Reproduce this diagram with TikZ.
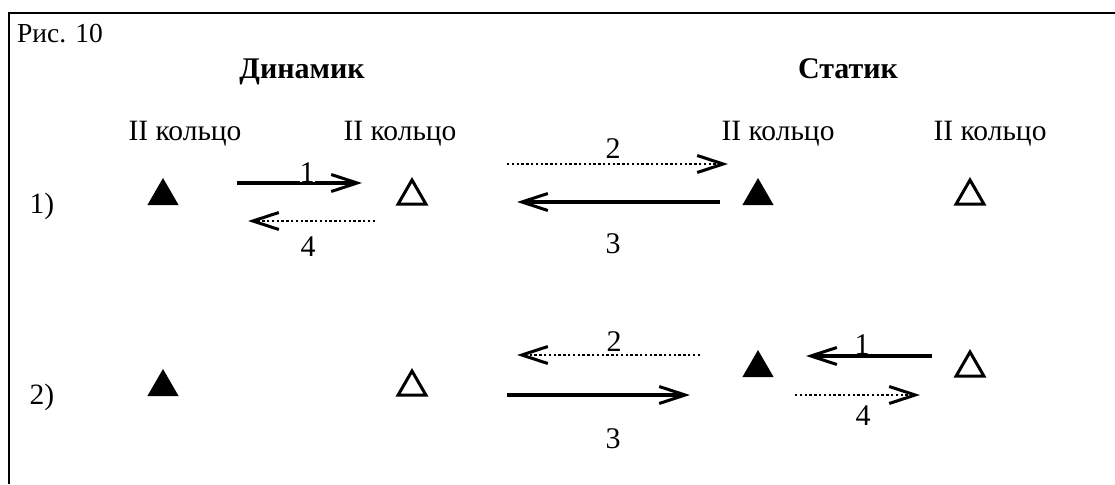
\documentclass[tikz,border=0pt]{standalone}
\usepackage{fontspec}
\setmainfont{Liberation Serif}
\usetikzlibrary{arrows.meta,shapes.geometric}
\tikzset{
  txt/.style={inner sep=0pt, anchor=base, font=\fontsize{29.5}{32}\selectfont},
  head/.style={inner sep=0pt, anchor=base, font=\fontsize{30}{34}\selectfont\bfseries},
  num/.style={inner sep=0pt, anchor=base, fill=white, font=\fontsize{30}{34}\selectfont},
  full/.style={regular polygon, regular polygon sides=3, minimum size=36pt, inner sep=0pt, fill=black},
  hollow/.style={regular polygon, regular polygon sides=3, minimum size=32pt, inner sep=0pt, draw=black, line width=3pt, line join=miter},
  solidarr/.style={line width=3.2pt, -{Straight Barb[length=26pt,width=17pt,line width=3pt]}},
  dotarr/.style={line width=2.8pt, dash pattern=on 2.4pt off 2.4pt, -{Straight Barb[length=26pt,width=17pt,line width=3pt]}}
}
\begin{document}
\begin{tikzpicture}[x=1pt,y=-1pt]
\useasboundingbox (0,0) rectangle (1115,484);
% frame
\coordinate (fr) at (1115,13);
\coordinate (fc) at (9,13);
\coordinate (fb) at (9,484);
\draw[line width=2.8pt] (fr) -- (fc) -- (fb);
% titles
\node[txt, anchor=base west, font=\fontsize{27.5}{30}\selectfont] (fig) at (17,43) {Рис. 10};
\node[head] (dyn) at (302,79) {Динамик};
\node[head] (stat) at (848,79) {Статик};
\node[txt] (r1) at (185,140) {II кольцо};
\node[txt] (r2) at (400,140) {II кольцо};
\node[txt] (r3) at (778,140) {II кольцо};
\node[txt] (r4) at (990,140) {II кольцо};
\node[txt] (c1) at (42,213) {1)};
\node[txt] (c2) at (42,404) {2)};
% triangles row 1
\node[full] (t11) at (163,196) {};
\node[hollow] (t12) at (412,196) {};
\node[full] (t13) at (758,196) {};
\node[hollow] (t14) at (970,196) {};
% triangles row 2
\node[full] (t21) at (163,387) {};
\node[hollow] (t22) at (412,387) {};
\node[full] (t23) at (758,368) {};
\node[hollow] (t24) at (970,368) {};
% arrow end points row 1
\coordinate (a1s) at (237,183); \coordinate (a1e) at (362,183);
\coordinate (a4s) at (375,221); \coordinate (a4e) at (248,221);
\coordinate (a2s) at (507,164); \coordinate (a2e) at (728,164);
\coordinate (a3s) at (720,202); \coordinate (a3e) at (517,202);
% arrow end points row 2
\coordinate (b2s) at (700,355); \coordinate (b2e) at (517,355);
\coordinate (b3s) at (507,395); \coordinate (b3e) at (690,395);
\coordinate (b1s) at (932,356); \coordinate (b1e) at (806,356);
\coordinate (b4s) at (795,395); \coordinate (b4e) at (920,395);
% arrows
\draw[solidarr] (a1s) -- (a1e);
\draw[dotarr] (a4s) -- (a4e);
\draw[dotarr] (a2s) -- (a2e);
\draw[solidarr] (a3s) -- (a3e);
\draw[dotarr] (b2s) -- (b2e);
\draw[solidarr] (b3s) -- (b3e);
\draw[solidarr] (b1s) -- (b1e);
\draw[dotarr] (b4s) -- (b4e);
% labels
\node[num] (l1) at (307,182) {1};
\node[num] (l4) at (308,256) {4};
\node[num] (l2) at (613,158) {2};
\node[num] (l3) at (613,253) {3};
\node[num] (m2) at (614,351) {2};
\node[num] (m3) at (613,448) {3};
\node[num] (m1) at (862,354) {1};
\node[num] (m4) at (863,425) {4};
\end{tikzpicture}
\end{document}
